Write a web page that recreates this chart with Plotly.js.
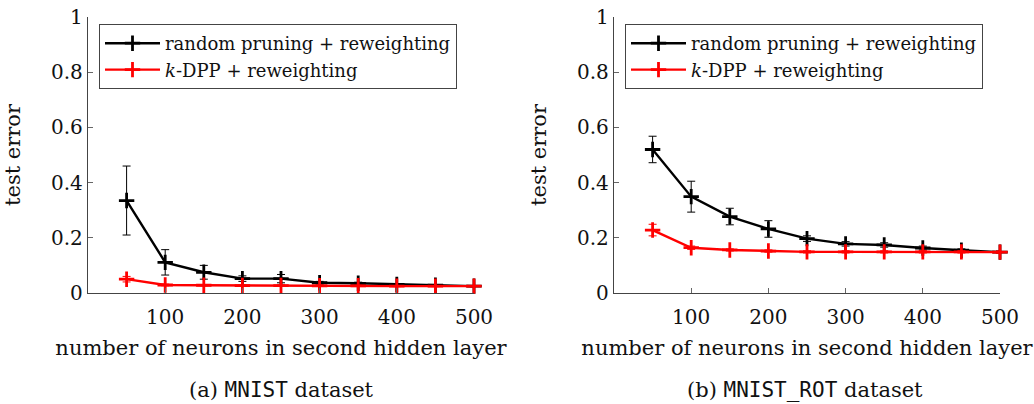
<!DOCTYPE html>
<html><head><meta charset="utf-8">
<script src="https://cdn.plot.ly/plotly-3.0.1.min.js"></script>
<style>body{margin:0;background:#fff}#g{width:1034px;height:404px}</style>
</head><body><div id="g"></div>
<script>
const neurons = [50,100,150,200,250,300,350,400,450,500];
// (a) MNIST
const mnistRandom = [0.335,0.111,0.075,0.052,0.052,0.037,0.035,0.031,0.028,0.025];
const mnistRandomErr = [0.125,0.046,0.025,0.010,0.015,0.005,0.004,0.003,0.002,0.002];
const mnistDpp = [0.050,0.029,0.028,0.027,0.027,0.026,0.026,0.025,0.025,0.025];
const mnistDppErr = [0.010,0.003,0.002,0.002,0.002,0.002,0.002,0.002,0.002,0.002];
// (b) MNIST_ROT
const rotRandom = [0.520,0.349,0.277,0.232,0.197,0.178,0.174,0.163,0.155,0.148];
const rotRandomErr = [0.048,0.056,0.030,0.030,0.010,0.008,0.008,0.007,0.005,0.004];
const rotDpp = [0.228,0.164,0.156,0.152,0.149,0.149,0.149,0.149,0.149,0.148];
const rotDppErr = [0.021,0.006,0.004,0.004,0.004,0.004,0.004,0.004,0.004,0.004];
const yTicks = [0,0.2,0.4,0.6,0.8,1];
const yTickText = ['0','0.2','0.4','0.6','0.8','1'];
const xTicks = [100,200,300,400,500];
const seriesNames = ['random pruning + reweighting','<i>k</i>-DPP + reweighting'];
const captions = ['(a) <span style="font-family:\'DejaVu Sans Mono\'">MNIST</span> dataset','(b) <span style="font-family:\'DejaVu Sans Mono\'">MNIST_ROT</span> dataset'];

const SERIF = 'DejaVu Serif, serif';
function tr(y, err, color, xa, ya, name, leg){
  return {x: neurons, y: y, type:'scatter', mode:'lines+markers', name: name,
    xaxis: xa, yaxis: ya, legend: leg, cliponaxis:false,
    line:{color:color, width:2.4},
    marker:{symbol:'cross-thin', size:11, line:{color:color, width:2.8}, color:color},
    error_y:{type:'data', array: err, visible:true, color: color, thickness:1, width:4}};
}
const data = [
  tr(mnistRandom, mnistRandomErr, '#000', 'x', 'y', seriesNames[0], 'legend'),
  tr(mnistDpp, mnistDppErr, '#ff0000', 'x', 'y', seriesNames[1], 'legend'),
  tr(rotRandom, rotRandomErr, '#000', 'x2', 'y2', seriesNames[0], 'legend2'),
  tr(rotDpp, rotDppErr, '#ff0000', 'x2', 'y2', seriesNames[1], 'legend2'),
];
function xax(dom, anchor){
  return {domain: dom, anchor: anchor, range:[0,500], tickvals: xTicks, ticks:'inside', ticklen:5,
    tickcolor:'#666', showline:true, linecolor:'#444', linewidth:1.2, showgrid:false, zeroline:false,
    ticklabelstandoff:6,
    tickfont:{family:SERIF, size:20, color:'#111'},
    title:{text:'number of neurons in second hidden layer', font:{family:SERIF, size:21, color:'#111'}, standoff:12}};
}
function yax(anchor){
  return {domain:[0.2748,0.9579], anchor: anchor, range:[0,1], tickvals: yTicks, ticktext: yTickText,
    ticks:'inside', ticklen:5, tickcolor:'#666', showline:true, linecolor:'#444', linewidth:1.2,
    showgrid:false, zeroline:false, tickfont:{family:SERIF, size:20, color:'#111'},
    title:{text:'test error', font:{family:SERIF, size:21, color:'#111'}, standoff:24}};
}
function leg(x){
  return {x:x, y:1-24/404, xanchor:'left', yanchor:'top', xref:'paper', yref:'paper',
    bordercolor:'#444', borderwidth:1, bgcolor:'rgba(255,255,255,0)',
    font:{family:SERIF, size:18, color:'#111'}, tracegroupgap:0, itemwidth:55};
}
const layout = {
  width:1034, height:404, margin:{l:0,r:0,t:0,b:0},
  paper_bgcolor:'#fff', plot_bgcolor:'#fff', showlegend:true,
  xaxis: xax([88/1034, 474/1034], 'y'),
  yaxis: yax('x'),
  xaxis2: xax([614/1034, 1000/1034], 'y2'),
  yaxis2: yax('x2'),
  legend: leg(99/1034),
  legend2: leg(625/1034),
  annotations: [
    {text: captions[0], x:281/1034, y:1-390/404, xref:'paper', yref:'paper', xanchor:'center', yanchor:'middle', showarrow:false,
     font:{family:SERIF, size:21, color:'#111'}},
    {text: captions[1], x:805/1034, y:1-390/404, xref:'paper', yref:'paper', xanchor:'center', yanchor:'middle', showarrow:false,
     font:{family:SERIF, size:21, color:'#111'}}
  ]
};
Plotly.newPlot('g', data, layout, {staticPlot:true});
</script></body></html>
